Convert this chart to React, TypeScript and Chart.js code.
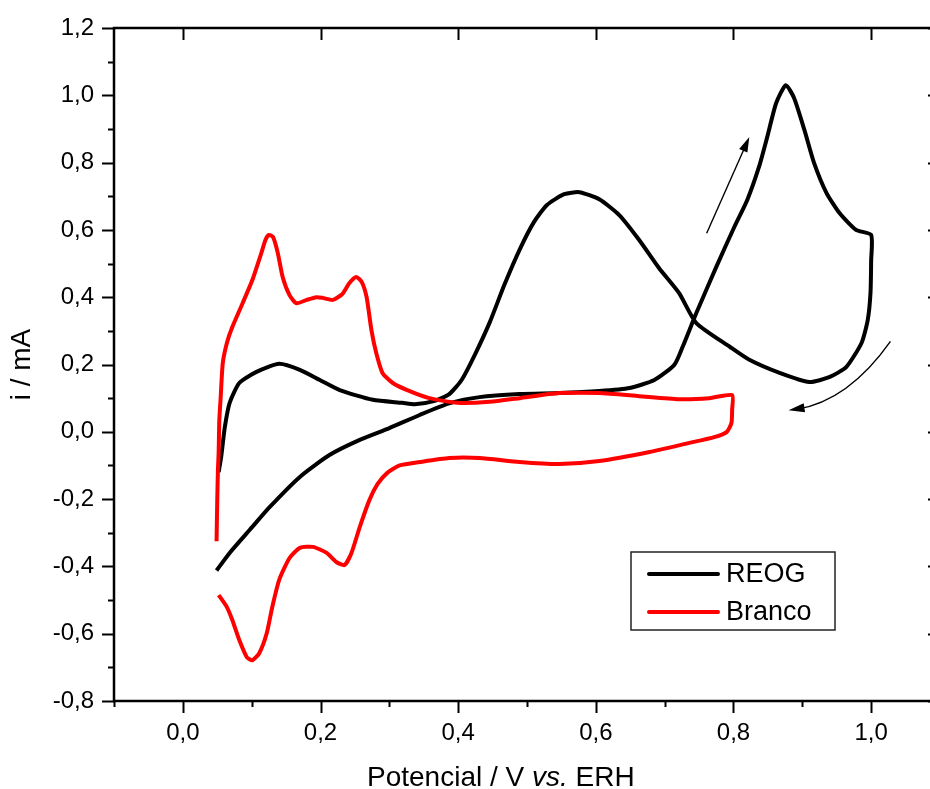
import React, { useEffect, useRef } from "react";
import { Chart, registerables } from "chart.js";

Chart.register(...registerables);

// Cyclic voltammograms: potential (V vs. ERH) and current (mA)
const reogPotential = [
  0.049, 0.068, 0.097, 0.126, 0.17, 0.213, 0.257, 0.3, 0.344, 0.388, 0.431, 0.489, 0.547, 0.605, 0.649,
  0.685, 0.714, 0.726, 0.746, 0.775, 0.801, 0.82, 0.837, 0.849, 0.862, 0.876, 0.888, 0.903, 0.917, 0.935,
  0.954, 0.978, 1.0,
  1.0, 0.999, 0.995, 0.986, 0.964, 0.94, 0.91, 0.867, 0.823, 0.795, 0.746, 0.721, 0.692, 0.663, 0.634,
  0.605, 0.576, 0.554, 0.529, 0.51, 0.489, 0.467, 0.446, 0.424, 0.405, 0.387, 0.366, 0.337, 0.319, 0.276,
  0.228, 0.199, 0.17, 0.14, 0.107, 0.082, 0.068, 0.061, 0.056, 0.052,
];
const reogCurrent = [
  -0.412, -0.36, -0.292, -0.224, -0.134, -0.069, -0.024, 0.011, 0.05, 0.085, 0.103, 0.112, 0.115, 0.121, 0.13,
  0.154, 0.199, 0.252, 0.353, 0.49, 0.608, 0.689, 0.787, 0.876, 0.977, 1.03, 0.992, 0.897, 0.799, 0.71,
  0.65, 0.6, 0.585,
  0.51, 0.412, 0.332, 0.264, 0.193, 0.163, 0.148, 0.175, 0.214, 0.252, 0.323, 0.412, 0.486, 0.57, 0.644,
  0.691, 0.712, 0.706, 0.674, 0.623, 0.54, 0.436, 0.326, 0.228, 0.154, 0.112, 0.092, 0.082, 0.086, 0.095,
  0.124, 0.154, 0.184, 0.202, 0.178, 0.145, 0.086, 0.014, -0.07, -0.12,
];

const brancoPotential = [
  0.049, 0.05, 0.051, 0.052, 0.053, 0.055, 0.058, 0.064, 0.072, 0.087, 0.101, 0.114, 0.12, 0.125, 0.131,
  0.138, 0.145, 0.155, 0.165, 0.18, 0.194, 0.203, 0.218, 0.232, 0.242, 0.252, 0.26, 0.267, 0.274, 0.281,
  0.29, 0.305, 0.326, 0.358, 0.399, 0.446, 0.489, 0.547, 0.605, 0.663, 0.721, 0.765, 0.798,
  0.798, 0.797, 0.79, 0.772, 0.736, 0.678, 0.605, 0.547, 0.489, 0.431, 0.387, 0.344, 0.315, 0.297, 0.283,
  0.271, 0.257, 0.245, 0.235, 0.223, 0.209, 0.189, 0.17, 0.155, 0.14, 0.13, 0.122, 0.111, 0.101, 0.093,
  0.082, 0.072, 0.064, 0.052,
];
const brancoCurrent = [
  -0.325, -0.203, -0.113, -0.063, 0.035, 0.103, 0.204, 0.264, 0.312, 0.383, 0.451, 0.531, 0.57, 0.585, 0.579,
  0.531, 0.46, 0.406, 0.382, 0.392, 0.4, 0.398, 0.392, 0.41, 0.442, 0.46, 0.445, 0.4, 0.302, 0.234,
  0.175, 0.145, 0.124, 0.1, 0.086, 0.089, 0.1, 0.115, 0.115, 0.106, 0.097, 0.1, 0.109,
  0.065, 0.026, -0.001, -0.016, -0.033, -0.06, -0.087, -0.096, -0.09, -0.078, -0.078, -0.09, -0.1, -0.122, -0.155,
  -0.203, -0.283, -0.36, -0.396, -0.387, -0.36, -0.342, -0.345, -0.375, -0.44, -0.52, -0.598, -0.658, -0.679, -0.67,
  -0.619, -0.56, -0.521, -0.485,
];

const seriesNames = ["REOG", "Branco"];
const seriesColors = ["#000000", "#ff0000"];

const xMin = -0.1;
const xMax = 1.1;
const yMin = -0.8;
const yMax = 1.2;
const tickStep = 0.1;

// plot frame in canvas pixels (the right edge runs past the visible page)
const AREA = { left: 114, top: 28, right: 940, bottom: 701 };

const FONT = "'Liberation Sans', Arial, sans-serif";

const toPoints = (xs: number[], ys: number[]) => xs.map((x, i) => ({ x, y: ys[i] }));
const fmt = (v: number) => v.toFixed(1).replace(".", ",");
const isMajor = (v: number) => Math.round(v * 10) % 2 === 0;

const areaPlugin = {
  id: "fixedArea",
  afterLayout(chart: any) {
    const ca = chart.chartArea;
    ca.left = AREA.left;
    ca.right = AREA.right;
    ca.top = AREA.top;
    ca.bottom = AREA.bottom;
    ca.width = AREA.right - AREA.left;
    ca.height = AREA.bottom - AREA.top;
    const x = chart.scales.x;
    x.left = AREA.left;
    x.right = AREA.right;
    x.width = AREA.right - AREA.left;
    x.top = AREA.bottom;
    x.bottom = chart.height;
    x.height = chart.height - AREA.bottom;
    x.configure();
    const y = chart.scales.y;
    y.left = 0;
    y.right = AREA.left;
    y.width = AREA.left;
    y.top = AREA.top;
    y.bottom = AREA.bottom;
    y.height = AREA.bottom - AREA.top;
    y.configure();
  },
};

const framePlugin = {
  id: "originFrame",
  afterDraw(chart: any) {
    const { ctx, chartArea } = chart;
    const xs = chart.scales.x;
    const ys = chart.scales.y;
    const { left, right, top, bottom } = chartArea;
    ctx.save();
    ctx.strokeStyle = "#000";
    ctx.fillStyle = "#000";
    ctx.lineCap = "butt";

    // frame
    ctx.lineWidth = 2.5;
    ctx.strokeRect(left, top, right - left, bottom - top);

    // ticks: outward on left/bottom with minors, inward majors on top/right
    ctx.lineWidth = 2;
    const major = 12;
    const minor = 6;
    ctx.beginPath();
    for (let i = 0; i <= Math.round((yMax - yMin) / tickStep); i++) {
      const v = yMin + i * tickStep;
      const py = Math.round(ys.getPixelForValue(v)) + 0.5;
      const m = isMajor(v);
      ctx.moveTo(left, py);
      ctx.lineTo(left - (m ? major : minor), py);
      if (m) {
        ctx.moveTo(right, py);
        ctx.lineTo(right - major, py);
      }
    }
    for (let i = 0; i <= Math.round((xMax - xMin) / tickStep); i++) {
      const v = xMin + i * tickStep;
      const px = Math.round(xs.getPixelForValue(v)) + 0.5;
      const m = isMajor(v);
      ctx.moveTo(px, bottom);
      ctx.lineTo(px, bottom + (m ? major : minor));
      if (m) {
        ctx.moveTo(px, top);
        ctx.lineTo(px, top + major);
      }
    }
    ctx.stroke();

    // axis titles
    ctx.font = `28px ${FONT}`;
    ctx.textBaseline = "middle";
    ctx.textAlign = "center";
    ctx.save();
    ctx.translate(22, (top + bottom) / 2);
    ctx.rotate(-Math.PI / 2);
    ctx.fillText("i / mA", 0, 0);
    ctx.restore();

    const parts: [string, boolean][] = [
      ["Potencial / V ", false],
      ["vs.", true],
      [" ERH", false],
    ];
    let tx = 367;
    ctx.textAlign = "left";
    ctx.textBaseline = "alphabetic";
    for (const [t, it] of parts) {
      ctx.font = `${it ? "italic " : ""}28px ${FONT}`;
      ctx.fillText(t, tx, 786);
      tx += ctx.measureText(t).width;
    }

    // legend
    ctx.lineWidth = 1.5;
    ctx.strokeStyle = "#222";
    ctx.strokeRect(631, 552, 204, 78);
    ctx.font = `27px ${FONT}`;
    ctx.textBaseline = "middle";
    seriesNames.forEach((name, i) => {
      const ly = 574 + i * 38;
      ctx.strokeStyle = seriesColors[i];
      ctx.lineWidth = 4;
      ctx.lineCap = "round";
      ctx.beginPath();
      ctx.moveTo(649, ly);
      ctx.lineTo(718, ly);
      ctx.stroke();
      ctx.fillStyle = "#000";
      ctx.fillText(name, 726, ly + 1);
    });

    // scan direction arrows
    const P = (x: number, y: number) => [xs.getPixelForValue(x), ys.getPixelForValue(y)];
    const head = (tipX: number, tipY: number, dx: number, dy: number, len: number, half: number) => {
      const d = Math.hypot(dx, dy);
      const ux = dx / d;
      const uy = dy / d;
      ctx.beginPath();
      ctx.moveTo(tipX, tipY);
      ctx.lineTo(tipX - ux * len - uy * half, tipY - uy * len + ux * half);
      ctx.lineTo(tipX - ux * len + uy * half, tipY - uy * len - ux * half);
      ctx.closePath();
      ctx.fill();
    };
    ctx.strokeStyle = "#000";
    ctx.fillStyle = "#000";
    ctx.lineWidth = 1.4;
    ctx.lineCap = "butt";
    const [ax0, ay0] = P(0.761, 0.59);
    const [ax1, ay1] = P(0.823, 0.876);
    const dA = Math.hypot(ax1 - ax0, ay1 - ay0);
    ctx.beginPath();
    ctx.moveTo(ax0, ay0);
    ctx.lineTo(ax1 - ((ax1 - ax0) / dA) * 10, ay1 - ((ay1 - ay0) / dA) * 10);
    ctx.stroke();
    head(ax1, ay1, ax1 - ax0, ay1 - ay0, 15, 4.5);

    const [bx0, by0] = P(1.028, 0.269);
    const [bcx, bcy] = P(0.967, 0.092);
    const [bx1, by1] = P(0.88, 0.064);
    ctx.beginPath();
    ctx.moveTo(bx0, by0);
    ctx.quadraticCurveTo(bcx, bcy, bx1 + 8, by1 - 1);
    ctx.stroke();
    head(bx1, by1, bx1 - bcx, by1 - bcy, 16, 4.5);

    ctx.restore();
  },
};

export default function App() {
  const ref = useRef<HTMLCanvasElement | null>(null);

  useEffect(() => {
    if (!ref.current) return;
    const tickFont = { family: FONT, size: 24 };
    const chart = new Chart(ref.current, {
      type: "scatter",
      data: {
        datasets: [
          {
            label: seriesNames[0],
            data: toPoints(reogPotential, reogCurrent),
            borderColor: seriesColors[0],
            backgroundColor: seriesColors[0],
            borderWidth: 4,
            showLine: true,
            pointRadius: 0,
            tension: 0.2,
            order: 2,
          },
          {
            label: seriesNames[1],
            data: toPoints(brancoPotential, brancoCurrent),
            borderColor: seriesColors[1],
            backgroundColor: seriesColors[1],
            borderWidth: 4,
            showLine: true,
            pointRadius: 0,
            tension: 0.2,
            order: 1,
          },
        ],
      },
      options: {
        animation: false,
        responsive: false,
        devicePixelRatio: 1,
        layout: { padding: { left: 0, top: 28, right: 0, bottom: 0 } },
        plugins: { legend: { display: false }, tooltip: { enabled: false } },
        scales: {
          x: {
            type: "linear",
            min: xMin,
            max: xMax,
            grid: { display: false, drawTicks: false },
            border: { display: false },
            ticks: {
              stepSize: tickStep,
              autoSkip: false,
              maxRotation: 0,
              color: "#000",
              font: tickFont,
              padding: 18,
              callback: (v: any) => {
                const n = Number(v);
                return isMajor(n) && n > -0.05 && n < 1.05 ? fmt(n) : "";
              },
            },
          },
          y: {
            type: "linear",
            min: yMin,
            max: yMax,
            grid: { display: false, drawTicks: false },
            border: { display: false },
            ticks: {
              stepSize: tickStep,
              autoSkip: false,
              color: "#000",
              font: tickFont,
              padding: 20,
              callback: (v: any) => {
                const n = Number(v);
                return isMajor(n) ? fmt(n) : "";
              },
            },
          },
        },
      },
      plugins: [areaPlugin, framePlugin],
    });
    return () => chart.destroy();
  }, []);

  return (
    <div style={{ position: "absolute", left: 0, top: 0, width: 930, height: 789, background: "#fff" }}>
      <canvas ref={ref} width={930} height={789} />
    </div>
  );
}
